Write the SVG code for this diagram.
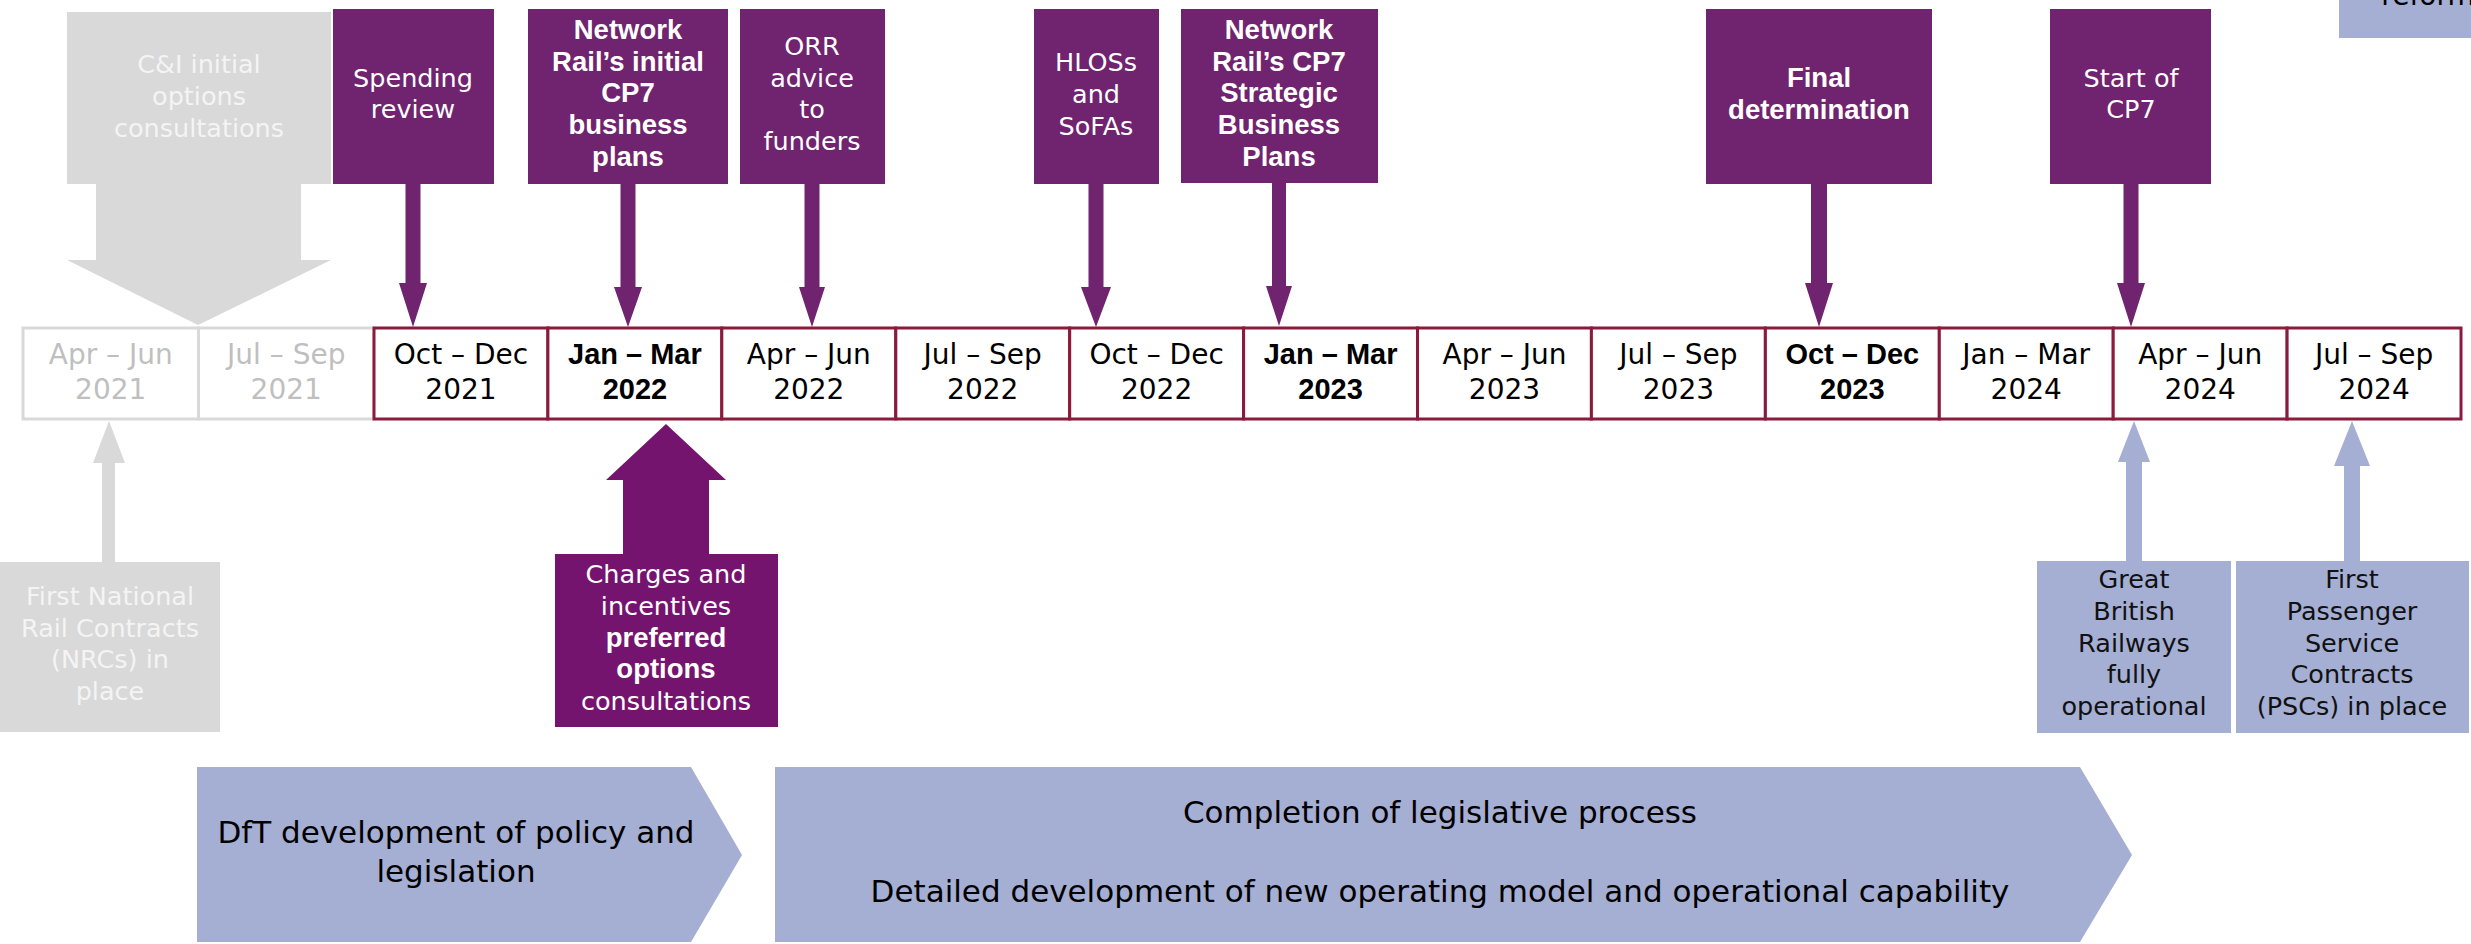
<svg xmlns="http://www.w3.org/2000/svg" width="2471" height="944" viewBox="0 0 2471 944">
<style>
text{font-family:"DejaVu Sans","Liberation Sans",sans-serif;text-anchor:middle}
.wl{fill:#ffffff;font-size:25.5px}
.b{font-family:"Liberation Sans","DejaVu Sans",sans-serif;font-weight:bold;font-size:27.5px}
.gt{fill:#f4f4f4;font-size:25.5px}
.dk{fill:#111111;font-size:25.5px}
.tl{fill:#000000;font-size:28px}
.tl.b{font-size:29px}
.tg{fill:#bfbfbf;font-size:28px}
.ch{fill:#000000;font-size:31px}
.pb{fill:#70236e}
.pm{fill:#75146f}
.gy{fill:#d9d9d9}
.bl{fill:#a5aed3}
.cellp{fill:#ffffff;stroke:#8b1a3d;stroke-width:3}
.cellg{fill:#ffffff;stroke:#d9d9d9;stroke-width:3}
</style>
<rect x="0" y="0" width="2471" height="944" fill="#ffffff"/>

<!-- partial box top right -->
<g id="reform-box">
<rect class="bl" x="2339" y="-20" width="140" height="58"/>
<text class="ch" x="2428" y="5" style="font-size:28px">reform</text>
</g>

<!-- connectors -->
<g id="connectors">
<path class="pb" d="M405.5,184 V283 H399 L413,327 L427,283 H420.5 V184 Z"/>
<path class="pb" d="M620.5,184 V287 H614 L628,327 L642,287 H635.5 V184 Z"/>
<path class="pb" d="M804.5,184 V287 H799 L812,327 L825,287 H819.5 V184 Z"/>
<path class="pb" d="M1088.5,184 V287 H1081 L1096,327 L1111,287 H1103.5 V184 Z"/>
<path class="pb" d="M1272,183 V286 H1266 L1279,326 L1292,286 H1286 V183 Z"/>
<path class="pb" d="M1811,184 V283 H1805 L1819,327 L1833,283 H1827 V184 Z"/>
<path class="pb" d="M2123.5,184 V283 H2117 L2131,327 L2145,283 H2138.5 V184 Z"/>
<path class="gy" d="M102,562 V463 H93 L109,421 L125,463 H115 V562 Z"/>
<path class="pm" d="M623,555 V480 H606 L666,424 L726,480 H709 V555 Z"/>
<path class="bl" d="M2126,561 V462 H2118 L2134,421 L2150,462 H2142 V561 Z"/>
<path class="bl" d="M2344,561 V466 H2334 L2352,421 L2370,466 H2360 V561 Z"/>
</g>

<!-- C&I initial options consultations (grey block arrow) -->
<g id="ci-initial">
<path class="gy" d="M67,12 H331 V184 H301 V260 H331 L198,325 L67,260 H96 V184 H67 Z"/>
<text class="gt" x="199" y="73">C&amp;I initial</text>
<text class="gt" x="199" y="105">options</text>
<text class="gt" x="199" y="137">consultations</text>
</g>

<g id="spending-review">
<rect class="pb" x="333" y="9" width="161" height="175"/>
<text class="wl" x="413" y="87">Spending</text>
<text class="wl" x="413" y="118">review</text>
</g>

<g id="nr-initial">
<rect class="pb" x="528" y="9" width="200" height="175"/>
<text class="wl b" x="628" y="39">Network</text>
<text class="wl b" x="628" y="71">Rail’s initial</text>
<text class="wl b" x="628" y="102">CP7</text>
<text class="wl b" x="628" y="134">business</text>
<text class="wl b" x="628" y="166">plans</text>
</g>

<g id="orr-advice">
<rect class="pb" x="740" y="9" width="145" height="175"/>
<text class="wl" x="812" y="55">ORR</text>
<text class="wl" x="812" y="87">advice</text>
<text class="wl" x="812" y="118">to</text>
<text class="wl" x="812" y="150">funders</text>
</g>

<g id="hlos">
<rect class="pb" x="1034" y="9" width="125" height="175"/>
<text class="wl" x="1096" y="71">HLOSs</text>
<text class="wl" x="1096" y="103">and</text>
<text class="wl" x="1096" y="135">SoFAs</text>
</g>

<g id="nr-cp7-sbp">
<rect class="pb" x="1181" y="9" width="197" height="174"/>
<text class="wl b" x="1279" y="39">Network</text>
<text class="wl b" x="1279" y="71">Rail’s CP7</text>
<text class="wl b" x="1279" y="102">Strategic</text>
<text class="wl b" x="1279" y="134">Business</text>
<text class="wl b" x="1279" y="166">Plans</text>
</g>

<g id="final-determination">
<rect class="pb" x="1706" y="9" width="226" height="175"/>
<text class="wl b" x="1819" y="87">Final</text>
<text class="wl b" x="1819" y="119">determination</text>
</g>

<g id="start-cp7">
<rect class="pb" x="2050" y="9" width="161" height="175"/>
<text class="wl" x="2131" y="87">Start of</text>
<text class="wl" x="2131" y="118">CP7</text>
</g>

<!-- timeline -->
<g id="timeline">
<g id="q-2021-2"><rect class="cellg" x="23" y="328" width="175.5" height="91"/><text class="tg" x="110.75" y="364">Apr – Jun</text><text class="tg" x="110.75" y="399">2021</text></g>
<g id="q-2021-3"><rect class="cellg" x="198.5" y="328" width="175.5" height="91"/><text class="tg" x="286.25" y="364">Jul – Sep</text><text class="tg" x="286.25" y="399">2021</text></g>
<g id="q-2021-4"><rect class="cellp" x="374" y="328" width="173.9" height="91"/><text class="tl" x="461" y="364">Oct – Dec</text><text class="tl" x="461" y="399">2021</text></g>
<g id="q-2022-1"><rect class="cellp" x="547.9" y="328" width="173.9" height="91"/><text class="tl b" x="634.9" y="364">Jan – Mar</text><text class="tl b" x="634.9" y="399">2022</text></g>
<g id="q-2022-2"><rect class="cellp" x="721.8" y="328" width="173.9" height="91"/><text class="tl" x="808.8" y="364">Apr – Jun</text><text class="tl" x="808.8" y="399">2022</text></g>
<g id="q-2022-3"><rect class="cellp" x="895.8" y="328" width="173.9" height="91"/><text class="tl" x="982.7" y="364">Jul – Sep</text><text class="tl" x="982.7" y="399">2022</text></g>
<g id="q-2022-4"><rect class="cellp" x="1069.7" y="328" width="173.9" height="91"/><text class="tl" x="1156.6" y="364">Oct – Dec</text><text class="tl" x="1156.6" y="399">2022</text></g>
<g id="q-2023-1"><rect class="cellp" x="1243.6" y="328" width="173.9" height="91"/><text class="tl b" x="1330.6" y="364">Jan – Mar</text><text class="tl b" x="1330.6" y="399">2023</text></g>
<g id="q-2023-2"><rect class="cellp" x="1417.5" y="328" width="173.9" height="91"/><text class="tl" x="1504.5" y="364">Apr – Jun</text><text class="tl" x="1504.5" y="399">2023</text></g>
<g id="q-2023-3"><rect class="cellp" x="1591.4" y="328" width="173.9" height="91"/><text class="tl" x="1678.4" y="364">Jul – Sep</text><text class="tl" x="1678.4" y="399">2023</text></g>
<g id="q-2023-4"><rect class="cellp" x="1765.4" y="328" width="173.9" height="91"/><text class="tl b" x="1852.3" y="364">Oct – Dec</text><text class="tl b" x="1852.3" y="399">2023</text></g>
<g id="q-2024-1"><rect class="cellp" x="1939.3" y="328" width="173.9" height="91"/><text class="tl" x="2026.2" y="364">Jan – Mar</text><text class="tl" x="2026.2" y="399">2024</text></g>
<g id="q-2024-2"><rect class="cellp" x="2113.2" y="328" width="173.9" height="91"/><text class="tl" x="2200.2" y="364">Apr – Jun</text><text class="tl" x="2200.2" y="399">2024</text></g>
<g id="q-2024-3"><rect class="cellp" x="2287.1" y="328" width="173.9" height="91"/><text class="tl" x="2374.1" y="364">Jul – Sep</text><text class="tl" x="2374.1" y="399">2024</text></g>
</g>

<g id="first-nrc">
<rect class="gy" x="0" y="562" width="220" height="170"/>
<text class="gt" x="110" y="605">First National</text>
<text class="gt" x="110" y="637">Rail Contracts</text>
<text class="gt" x="110" y="668">(NRCs) in</text>
<text class="gt" x="110" y="700">place</text>
</g>

<g id="charges-incentives">
<rect class="pm" x="555" y="554" width="223" height="173"/>
<text class="wl" x="666" y="583">Charges and</text>
<text class="wl" x="666" y="615">incentives</text>
<text class="wl b" x="666" y="647">preferred</text>
<text class="wl b" x="666" y="678">options</text>
<text class="wl" x="666" y="710">consultations</text>
</g>

<g id="gbr-operational">
<rect class="bl" x="2037" y="561" width="194" height="172"/>
<text class="dk" x="2134" y="588">Great</text>
<text class="dk" x="2134" y="620">British</text>
<text class="dk" x="2134" y="652">Railways</text>
<text class="dk" x="2134" y="683">fully</text>
<text class="dk" x="2134" y="715">operational</text>
</g>

<g id="first-psc">
<rect class="bl" x="2236" y="561" width="233" height="172"/>
<text class="dk" x="2352" y="588">First</text>
<text class="dk" x="2352" y="620">Passenger</text>
<text class="dk" x="2352" y="652">Service</text>
<text class="dk" x="2352" y="683">Contracts</text>
<text class="dk" x="2352" y="715">(PSCs) in place</text>
</g>

<g id="dft-development">
<path class="bl" d="M197,767 H691 L742,855 L691,942 H197 Z"/>
<text class="ch" x="456" y="843">DfT development of policy and</text>
<text class="ch" x="456" y="882">legislation</text>
</g>

<g id="legislative-completion">
<path class="bl" d="M775,767 H2080 L2132,855 L2080,942 H775 Z"/>
<text class="ch" x="1440" y="823">Completion of legislative process</text>
<text class="ch" x="1440" y="902">Detailed development of new operating model and operational capability</text>
</g>
</svg>
